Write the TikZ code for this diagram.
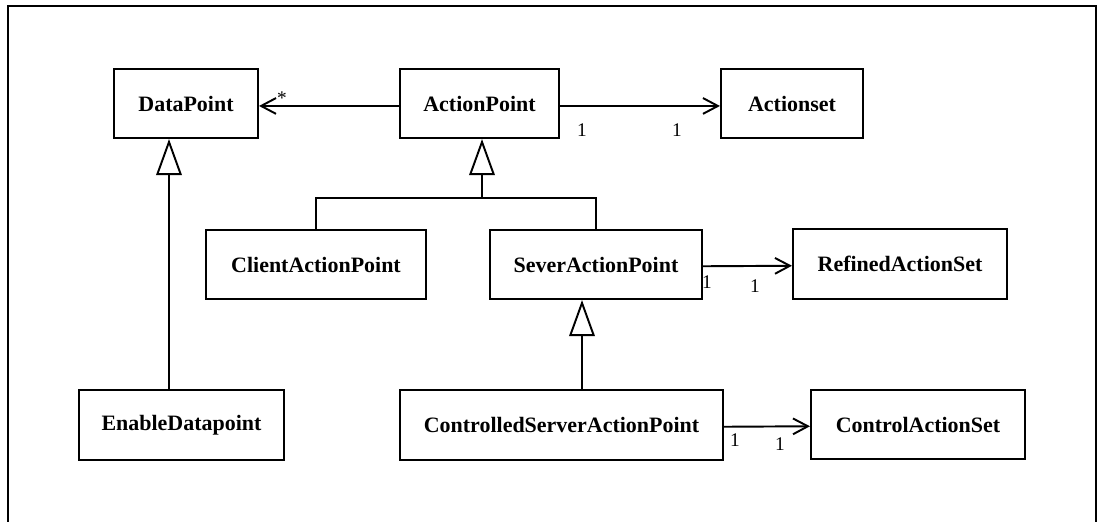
\documentclass[tikz,border=0pt]{standalone}
\usepackage{fontspec}
\setmainfont{Liberation Serif}
\usetikzlibrary{arrows.meta}

\tikzset{
  classbox/.style={draw, line width=1.2pt, inner sep=0pt, font=\fontsize{12.5}{14}\selectfont\bfseries},
  assoc/.style={line width=1.1pt, -{Straight Barb[length=8.5pt,width=9pt,line width=1.1pt]}},
  inherit/.style={line width=1.1pt, -{Triangle[open,length=0.72cm,width=0.51cm,line width=1.1pt]}},
  mult/.style={font=\fontsize{11}{12}\selectfont, inner sep=0pt}
}

\begin{document}
\begin{tikzpicture}[x=0.02cm, y=-0.02cm]

\clip (0,0) rectangle (1099,521);
\draw[line width=1.2pt] (8,6) rectangle (1096,560);

% classes
\node[classbox, minimum width=2.88cm, minimum height=1.38cm] (dp) at (186,103.5) {DataPoint};
\node[classbox, minimum width=3.18cm, minimum height=1.38cm] (ap) at (479.5,103.5) {ActionPoint};
\node[classbox, minimum width=2.84cm, minimum height=1.38cm] (as) at (792,103.5) {Actionset};

\node[classbox, minimum width=4.40cm, minimum height=1.38cm] (cap) at (316,264.5) {ClientActionPoint};
\node[classbox, minimum width=4.24cm, minimum height=1.38cm] (sap) at (596,264.5) {SeverActionPoint};
\node[classbox, minimum width=4.28cm, minimum height=1.40cm] (ras) at (900,264) {RefinedActionSet};

\node[classbox, minimum width=4.10cm, minimum height=1.40cm] (ed) at (181.5,425) {EnableDatapoint};
\node[classbox, minimum width=6.46cm, minimum height=1.40cm] (csap) at (561.5,425) {ControlledServerActionPoint};
\node[classbox, minimum width=4.28cm, minimum height=1.38cm] (cas) at (918,424.5) {ControlActionSet};

% associations
\draw[assoc] ([yshift=-1.4pt]ap.west) -- ([yshift=-1.4pt]dp.east);
\draw[assoc] ([yshift=-1.4pt]ap.east) -- ([yshift=-1.4pt]as.west);
\draw[assoc] ([yshift=-1pt]sap.east) -- ([yshift=-1pt]ras.west);
\draw[assoc] ([yshift=-1pt]csap.east) -- ([yshift=-1pt]cas.west);

\node[mult] (m1) at (282,98) {*};
\node[mult] (m2) at (582,130) {1};
\node[mult] (m3) at (677,130) {1};
\node[mult] (m4) at (707,282) {1};
\node[mult] (m5) at (755,286) {1};
\node[mult] (m6) at (735,440) {1};
\node[mult] (m7) at (780,444) {1};

% generalisations
\coordinate (g1) at (169,0);
\coordinate (g2) at (582,0);
\coordinate (jn) at (482,198);
\draw[inherit] (ed.north -| g1) -- (dp.south -| g1);
\draw[line width=1.1pt] (cap.north) |- (jn) -| (sap.north);
\draw[inherit] (jn) -- (ap.south -| jn);
\draw[inherit] (csap.north -| g2) -- (sap.south -| g2);

\end{tikzpicture}
\end{document}
